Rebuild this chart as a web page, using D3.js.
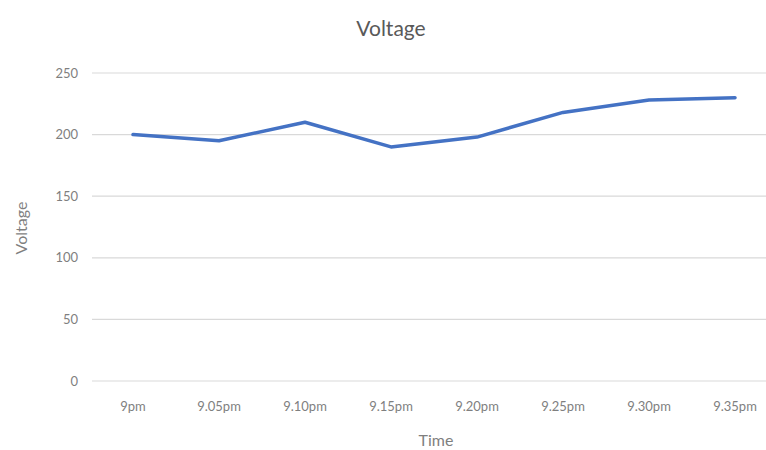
<!DOCTYPE html>
<html>
<head>
<meta charset="utf-8">
<script src="https://cdn.jsdelivr.net/npm/d3@7"></script>
<style>
  body { margin: 0; background: #fff; }
  text { font-family: Lato, "Open Sans", sans-serif; }
</style>
</head>
<body>
<div id="chart"></div>
<script>
const times = ['9pm', '9.05pm', '9.10pm', '9.15pm', '9.20pm', '9.25pm', '9.30pm', '9.35pm'];
const voltage = [200, 195, 210, 190, 198, 218, 228, 230];
const yTicks = [0, 50, 100, 150, 200, 250];

const width = 766, height = 450;
const plotLeft = 90, plotTop = 73, plotBottom = 381;

const svg = d3.select('#chart').append('svg')
    .attr('width', width)
    .attr('height', height);

const x = d3.scaleBand().domain(times).range([plotLeft, 778]);
const y = d3.scaleLinear().domain([0, 250]).range([plotBottom, plotTop]);

// gridlines
svg.append('g')
    .selectAll('line')
    .data(yTicks)
    .join('line')
    .attr('x1', plotLeft + 2)
    .attr('x2', width)
    .attr('y1', d => y(d))
    .attr('y2', d => y(d))
    .attr('stroke', '#d9d9d9')
    .attr('stroke-width', 1.2);

// y tick labels
svg.append('g')
    .selectAll('text')
    .data(yTicks)
    .join('text')
    .attr('x', 78)
    .attr('y', d => y(d))
    .attr('dy', '0.35em')
    .attr('text-anchor', 'end')
    .attr('font-size', 13)
    .attr('fill', '#7f7f7f')
    .text(d => d);

// x tick labels
svg.append('g')
    .selectAll('text')
    .data(times)
    .join('text')
    .attr('x', d => x(d) + x.bandwidth() / 2)
    .attr('y', 411)
    .attr('text-anchor', 'middle')
    .attr('font-size', 13)
    .attr('fill', '#7f7f7f')
    .text(d => d);

const line = d3.line()
    .x((d, i) => x(times[i]) + x.bandwidth() / 2)
    .y(d => y(d));

svg.append('path')
    .datum(voltage)
    .attr('d', line)
    .attr('fill', 'none')
    .attr('stroke', '#4472c4')
    .attr('stroke-width', 3.5)
    .attr('stroke-linejoin', 'round')
    .attr('stroke-linecap', 'round');

// titles
svg.append('text')
    .attr('x', 391)
    .attr('y', 36)
    .attr('text-anchor', 'middle')
    .attr('font-size', 21)
    .attr('fill', '#595959')
    .text('Voltage');

svg.append('text')
    .attr('x', 436)
    .attr('y', 446)
    .attr('text-anchor', 'middle')
    .attr('font-size', 16)
    .attr('fill', '#7f7f7f')
    .text('Time');

svg.append('text')
    .attr('transform', 'translate(27,228) rotate(-90)')
    .attr('text-anchor', 'middle')
    .attr('font-size', 16)
    .attr('fill', '#7f7f7f')
    .text('Voltage');
</script>
</body>
</html>
